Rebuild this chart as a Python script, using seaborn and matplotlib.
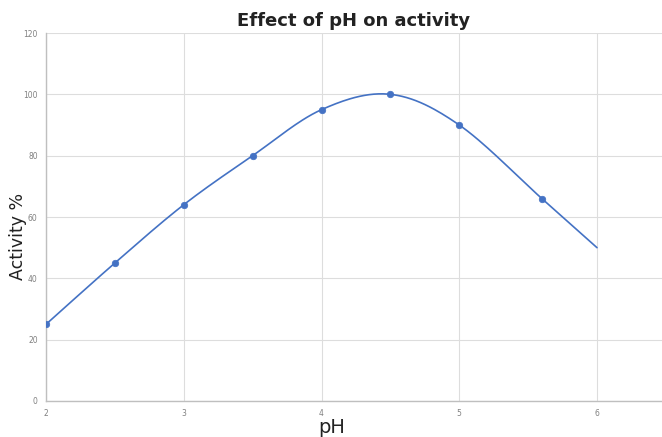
import numpy as np
import matplotlib
matplotlib.use("Agg")
import matplotlib.pyplot as plt
import seaborn as sns

# Data
ph = [2, 2.5, 3, 3.5, 4, 4.5, 5, 5.6, 6]
activity = [25, 45, 64, 80, 95, 100, 90, 66, 50]
# the last point (pH 6) has no marker in the reference
marker_ph = ph[:-1]
marker_activity = activity[:-1]


def smooth_curve(x, y, n=30):
    # Excel-style smoothed line: cubic Bezier with Catmull-Rom control points
    x = np.asarray(x, float)
    y = np.asarray(y, float)
    px = np.concatenate([[x[0]], x, [x[-1]]])
    py = np.concatenate([[y[0]], y, [y[-1]]])
    xs, ys = [], []
    t = np.linspace(0, 1, n)
    for i in range(1, len(px) - 2):
        p0 = np.array([px[i], py[i]])
        p3 = np.array([px[i + 1], py[i + 1]])
        c1 = p0 + (p3 - np.array([px[i - 1], py[i - 1]])) / 6
        c2 = p3 - (np.array([px[i + 2], py[i + 2]]) - p0) / 6
        b = ((1 - t) ** 3)[:, None] * p0 + (3 * (1 - t) ** 2 * t)[:, None] * c1 \
            + (3 * (1 - t) * t ** 2)[:, None] * c2 + (t ** 3)[:, None] * p3
        xs.extend(b[:, 0])
        ys.extend(b[:, 1])
    return np.array(xs), np.array(ys)


sns.set_theme(style="whitegrid")
plt.rcParams['font.family'] = ['DejaVu Sans']

fig = plt.figure(figsize=(6.62, 4.37), dpi=100)
ax = fig.add_axes([46 / 662, 36 / 437, 616 / 662, 368 / 437])
ax.set_facecolor("white")

line_color = "#4472C4"
sx, sy = smooth_curve(ph, activity)
ax.plot(sx, sy, color=line_color, linewidth=1.2, zorder=3)
sns.scatterplot(x=marker_ph, y=marker_activity, ax=ax, color=line_color,
                s=22, edgecolor=line_color, linewidth=0.5, zorder=4)

ax.set_xlim(2, 2 + 616 / 137.75)
ax.set_ylim(0, 120)
ax.set_xticks([2, 3, 4, 5, 6])
ax.set_yticks(range(0, 121, 20))
ax.tick_params(axis="both", length=0, labelsize=5.5, labelcolor="#808080", pad=6)

ax.grid(True, color="#DDDDDD", linewidth=0.8)
for s in ["top", "right"]:
    ax.spines[s].set_visible(False)
for s in ["left", "bottom"]:
    ax.spines[s].set_visible(True)
    ax.spines[s].set_color("#BFBFBF")
    ax.spines[s].set_linewidth(1.0)

ax.set_title("Effect of pH on activity", fontsize=13, fontweight="heavy",
             color="#222222", pad=5)
ax.set_xlabel("pH", fontsize=14, color="#222222")
ax.set_ylabel("Activity %", fontsize=12.5, color="#222222")
ax.xaxis.set_label_coords(0.464, -0.045)
ax.yaxis.set_label_coords(-0.031, 0.446)

fig.savefig("out.png", dpi=100)
